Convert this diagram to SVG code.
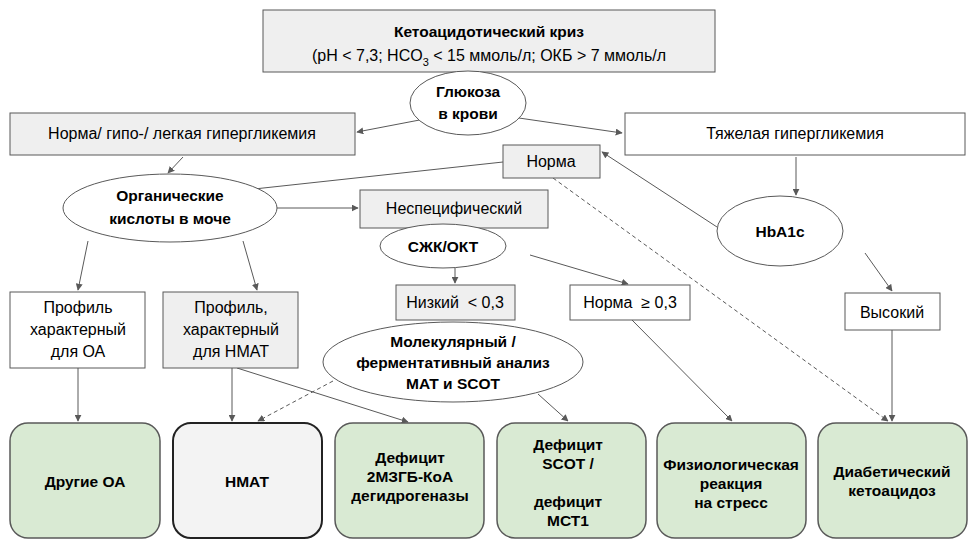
<svg xmlns="http://www.w3.org/2000/svg" width="974" height="548" viewBox="0 0 974 548">
<defs>
<marker id="ah" viewBox="0 0 10 10" refX="9" refY="5" markerWidth="7" markerHeight="7" orient="auto" markerUnits="userSpaceOnUse"><path d="M0,0L10,5L0,10z" fill="#595959"/></marker>
<style>
text{font-family:"Liberation Sans",Arial,sans-serif;font-size:16px;fill:#000;text-anchor:middle;white-space:pre}
.b{font-weight:bold;font-size:15.5px}
.g{fill:#efefef;stroke:#595959;stroke-width:1}
.w{fill:#fff;stroke:#595959;stroke-width:1}
.gr{fill:#d9ead3;stroke:#595959;stroke-width:1.5}
.c line{stroke:#595959;stroke-width:1;marker-end:url(#ah)}
.c .d{stroke-dasharray:4 3}
</style>
</defs>
<rect width="974" height="548" fill="#fff"/>
<g class="c">
<line x1="430" y1="118" x2="357" y2="132"/>
<line x1="512" y1="117" x2="622" y2="133"/>
<line x1="183" y1="157" x2="168" y2="173"/>
<line x1="503" y1="162" x2="245" y2="190"/>
<line x1="277" y1="208" x2="358" y2="208"/>
<line x1="88" y1="241" x2="78" y2="290"/>
<line x1="243" y1="241" x2="257" y2="290"/>
<line x1="455" y1="268" x2="455" y2="283"/>
<line x1="530" y1="255" x2="628" y2="284"/>
<line x1="796" y1="157" x2="796" y2="195"/>
<line x1="717" y1="227" x2="602" y2="152"/>
<line x1="865" y1="253" x2="892" y2="291"/>
<line class="d" x1="553" y1="178" x2="888" y2="421"/>
<line x1="892" y1="330" x2="892" y2="421"/>
<line x1="78" y1="368" x2="78" y2="421"/>
<line x1="232" y1="368" x2="232" y2="421"/>
<line x1="237" y1="368" x2="408" y2="422"/>
<line class="d" x1="333" y1="381" x2="258" y2="421"/>
<line x1="538" y1="394" x2="568" y2="421"/>
<line x1="632" y1="320" x2="732" y2="421"/>
</g>
<g id="crisis"><rect class="g" x="263" y="10" width="452" height="62"/>
<text class="b" x="489" y="37" font-size="17">Кетоацидотический криз</text>
<text x="489" y="61" font-size="17">(pH &lt; 7,3; HCO<tspan font-size="11" dy="5">3</tspan><tspan dy="-5"> &lt; 15 ммоль/л; ОКБ &gt; 7 ммоль/л</tspan></text></g>
<g id="glucose"><ellipse class="w" cx="468" cy="103" rx="58" ry="32"/><text class="b" x="468" y="97">Глюкоза</text><text class="b" x="468" y="119">в крови</text></g>
<g id="mild"><rect class="g" x="10" y="113" width="345" height="42"/><text x="182" y="139">Норма/ гипо-/ легкая гипергликемия</text></g>
<g id="severe"><rect class="w" x="625" y="113" width="340" height="42"/><text x="795" y="139">Тяжелая гипергликемия</text></g>
<g id="norm"><rect class="g" x="503" y="145" width="97" height="33"/><text x="551" y="167">Норма</text></g>
<g id="organic"><ellipse class="w" cx="170" cy="208" rx="107" ry="34"/><text class="b" x="170" y="201" font-size="17">Органические</text><text class="b" x="170" y="224" font-size="17">кислоты в моче</text></g>
<g id="nonspec"><rect class="g" x="360" y="190" width="188" height="38"/><text x="454" y="214">Неспецифический</text></g>
<g id="ffa"><ellipse class="w" cx="443" cy="246" rx="63" ry="22"/><text class="b" x="443" y="252" font-size="17">СЖК/ОКТ</text></g>
<g id="hba1c"><ellipse class="w" cx="780" cy="231" rx="63" ry="35"/><text class="b" x="780" y="237" font-size="17">HbA1c</text></g>
<g id="profoa"><rect class="w" x="10" y="292" width="135" height="76"/><text x="78" y="313">Профиль</text><text x="78" y="335">характерный</text><text x="78" y="357">для ОА</text></g>
<g id="profhmat"><rect class="g" x="163" y="292" width="135" height="76"/><text x="231" y="313">Профиль,</text><text x="231" y="335">характерный</text><text x="231" y="357">для НМАТ</text></g>
<g id="low"><rect class="g" x="396" y="285" width="119" height="35"/><text x="455" y="308" font-size="14">Низкий  &lt; 0,3</text></g>
<g id="normhigh"><rect class="w" x="570" y="285" width="120" height="35"/><text x="630" y="308" font-size="14">Норма  ≥ 0,3</text></g>
<g id="high"><rect class="w" x="845" y="293" width="95" height="37"/><text x="892" y="318">Высокий</text></g>
<g id="molec"><ellipse class="w" cx="453" cy="362" rx="130" ry="40"/><text class="b" x="453" y="347">Молекулярный /</text><text class="b" x="453" y="368">ферментативный анализ</text><text class="b" x="453" y="389">МАТ и SCOT</text></g>
<g id="otheroa"><rect class="gr" x="10" y="423" width="150" height="115" rx="18"/><text class="b" x="85" y="487">Другие ОА</text></g>
<g id="hmat"><rect x="173" y="423" width="149" height="115" rx="18" fill="#f3f3f3" stroke="#222" stroke-width="2"/><text class="b" x="247" y="487">НМАТ</text></g>
<g id="def2m"><rect class="gr" x="335" y="423" width="149" height="115" rx="18"/><text class="b" x="410" y="463">Дефицит</text><text class="b" x="410" y="482">2МЗГБ-КоА</text><text class="b" x="410" y="501">дегидрогеназы</text></g>
<g id="scot"><rect class="gr" x="497" y="423" width="149" height="115" rx="18"/><text class="b" x="568" y="450">Дефицит</text><text class="b" x="568" y="469">SCOT /</text><text class="b" x="568" y="507">дефицит</text><text class="b" x="568" y="526">МСТ1</text></g>
<g id="stress"><rect class="gr" x="657" y="423" width="149" height="115" rx="18"/><text class="b" x="731" y="470">Физиологическая</text><text class="b" x="731" y="489">реакция</text><text class="b" x="731" y="508">на стресс</text></g>
<g id="dka"><rect class="gr" x="818" y="423" width="149" height="115" rx="18"/><text class="b" x="892" y="477">Диабетический</text><text class="b" x="892" y="496">кетоацидоз</text></g>
</svg>
